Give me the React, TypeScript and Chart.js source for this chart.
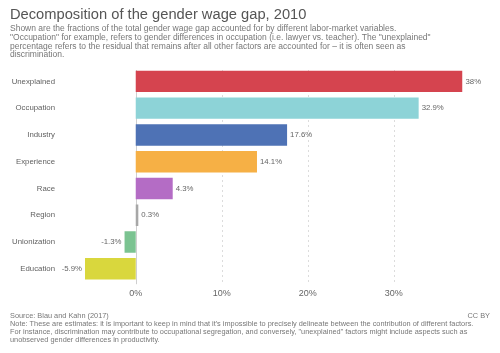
import React, { useEffect, useRef } from "react";
import { Chart, registerables } from "chart.js";

Chart.register(...registerables);

const categories = ["Unexplained", "Occupation", "Industry", "Experience", "Race", "Region", "Unionization", "Education"];
const values = [38, 32.9, 17.6, 14.1, 4.3, 0.3, -1.3, -5.9];
const colors = ["#D5444F", "#8DD3D7", "#4E72B5", "#F6B045", "#B46CC5", "#A7A7A7", "#7BC391", "#D9D73D"];
const xTicks = [0, 10, 20, 30];

const titleText = "Decomposition of the gender wage gap, 2010";
const subtitleLines = [
  "Shown are the fractions of the total gender wage gap accounted for by different labor-market variables.",
  "\"Occupation\" for example, refers to gender differences in occupation (i.e. lawyer vs. teacher). The \"unexplained\"",
  "percentage refers to the residual that remains after all other factors are accounted for \u2013 it is often seen as",
  "discrimination.",
];
const sourceText = "Source: Blau and Kahn (2017)";
const licenseText = "CC BY";
const noteLines = [
  "Note: These are estimates: it is important to keep in mind that it's impossible to precisely delineate between the contribution of different factors.",
  "For instance, discrimination may contribute to occupational segregation, and conversely, \"unexplained\" factors might include aspects such as",
  "unobserved gender differences in productivity.",
];

const FONT = "\"Liberation Sans\", Arial, Helvetica, sans-serif";

const textPlugin = {
  id: "owidText",
  beforeDatasetsDraw(chart: any) {
    const { ctx, chartArea } = chart;
    const x = chart.scales.x;
    ctx.save();
    ctx.lineWidth = 1;
    for (const v of xTicks) {
      const px = Math.round(x.getPixelForValue(v)) + 0.5;
      ctx.beginPath();
      if (v === 0) {
        ctx.strokeStyle = "#cfcfcf";
        ctx.setLineDash([]);
      } else {
        ctx.strokeStyle = "#dcdcdc";
        ctx.setLineDash([2, 3]);
      }
      ctx.moveTo(px, chartArea.top + 2);
      ctx.lineTo(px, chartArea.bottom + 2);
      ctx.stroke();
    }
    ctx.restore();
  },
  afterDraw(chart: any) {
    const { ctx } = chart;
    const x = chart.scales.x;
    const y = chart.scales.y;
    ctx.save();
    // title
    ctx.fillStyle = "#555555";
    ctx.font = `14.7px ${FONT}`;
    ctx.textAlign = "left";
    ctx.textBaseline = "middle";
    ctx.fillText(titleText, 10, 15);
    // subtitle
    ctx.fillStyle = "#777777";
    ctx.font = `8.5px ${FONT}`;
    subtitleLines.forEach((l, i) => ctx.fillText(l, 10, 29 + i * 8.7));
    // category labels
    ctx.fillStyle = "#5f5f5f";
    ctx.font = `7.8px ${FONT}`;
    ctx.textAlign = "right";
    categories.forEach((c, i) => ctx.fillText(c, 55, y.getPixelForValue(i)));
    // value labels
    ctx.fillStyle = "#666666";
    values.forEach((v, i) => {
      const py = y.getPixelForValue(i);
      const px = x.getPixelForValue(v);
      if (v >= 0) {
        ctx.textAlign = "left";
        ctx.fillText(`${v}%`, px + 3, py);
      } else {
        ctx.textAlign = "right";
        ctx.fillText(`${v}%`, px - 3, py);
      }
    });
    // footer
    ctx.fillStyle = "#777777";
    ctx.font = `7.35px ${FONT}`;
    ctx.textAlign = "left";
    ctx.fillText(sourceText, 10, 315.5);
    noteLines.forEach((l, i) => ctx.fillText(l, 10, 324 + i * 8));
    ctx.textAlign = "right";
    ctx.fillText(licenseText, 490, 315.5);
    ctx.restore();
  },
};

export default function App() {
  const ref = useRef<HTMLCanvasElement | null>(null);
  useEffect(() => {
    if (!ref.current) return;
    const chart = new Chart(ref.current, {
      type: "bar",
      data: {
        labels: categories,
        datasets: [
          {
            data: values,
            backgroundColor: colors,
            borderWidth: 0,
            categoryPercentage: 0.8,
            barPercentage: 1,
          },
        ],
      },
      options: {
        indexAxis: "y",
        animation: false,
        responsive: false,
        devicePixelRatio: 1,
        layout: { padding: { left: 85, right: 37.5, top: 68, bottom: 48 } },
        plugins: { legend: { display: false }, tooltip: { enabled: false }, title: { display: false } },
        scales: {
          y: { display: false },
          x: {
            min: -5.9,
            max: 38,
            afterBuildTicks: (scale: any) => {
              scale.ticks = xTicks.map((v) => ({ value: v }));
            },
            grid: { display: false, drawTicks: false },
            border: { display: false },
            ticks: {
              padding: 6,
              color: "#666666",
              font: { family: FONT, size: 9 },
              maxRotation: 0,
              autoSkip: false,
              callback: (v: any) => `${v}%`,
            },
          },
        },
      },
      plugins: [textPlugin],
    });
    return () => chart.destroy();
  }, []);
  return (
    <div style={{ position: "fixed", left: 0, top: 0, width: 500, height: 353, background: "#fff" }}>
      <canvas ref={ref} width={500} height={353} style={{ width: 500, height: 353 }} />
    </div>
  );
}
